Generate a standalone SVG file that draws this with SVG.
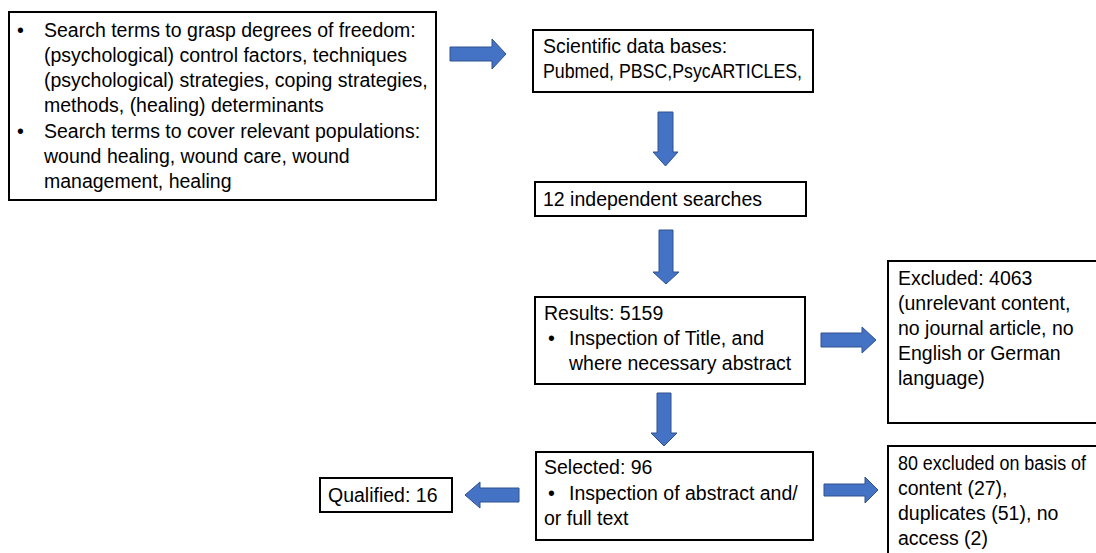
<svg xmlns="http://www.w3.org/2000/svg" width="1096" height="553" viewBox="0 0 1096 553">
<style>
.box{fill:#fff;stroke:#000;stroke-width:2}
.t{font-family:"Liberation Sans",Arial,sans-serif;font-size:19.5px;fill:#000}
.arr{fill:#4472C4;stroke:#2F528F;stroke-width:1}
</style>
<rect width="1096" height="553" fill="#fff"/>
<g id="connectors">
<path class="arr" d="M450,47 H492 V39 L506,54 L492,69 V61 H450 Z"/>
<path class="arr" d="M658,112 H673 V152 H678 L665.5,166 L653,152 H658 Z"/>
<path class="arr" d="M659,230 H673 V272 H679 L666,284 L653,272 H659 Z"/>
<path class="arr" d="M657,393 H671 V433 H677 L664,446 L651,433 H657 Z"/>
<path class="arr" d="M821,333 H862 V327 L876,340 L862,353 V347 H821 Z"/>
<path class="arr" d="M824,484 H865 V477 L878,490 L865,503 V496 H824 Z"/>
<path class="arr" d="M519,488 V502 H480 V508 L465,495 L480,482 V488 Z"/>
</g>
<g id="search-terms">
<rect class="box" x="9" y="12" width="427" height="188"/>
<text class="t" x="17" y="37">•</text>
<text class="t" x="44" y="37">Search terms to grasp degrees of freedom:</text>
<text class="t" x="44" y="62">(psychological) control factors, techniques</text>
<text class="t" x="44" y="87">(psychological) strategies, coping strategies,</text>
<text class="t" x="44" y="112">methods, (healing) determinants</text>
<text class="t" x="17" y="138">•</text>
<text class="t" x="44" y="138">Search terms to cover relevant populations:</text>
<text class="t" x="44" y="163">wound healing, wound care, wound</text>
<text class="t" x="44" y="188">management, healing</text>
</g>
<g id="databases">
<rect class="box" x="533" y="30" width="280" height="62"/>
<text class="t" x="543" y="53">Scientific data bases:</text>
<text class="t" x="543" y="78" textLength="259" lengthAdjust="spacingAndGlyphs">Pubmed, PBSC,PsycARTICLES,</text>
</g>
<g id="searches">
<rect class="box" x="535" y="182" width="271" height="34"/>
<text class="t" x="543" y="206">12 independent searches</text>
</g>
<g id="results">
<rect class="box" x="535" y="297" width="270" height="87"/>
<text class="t" x="544" y="320">Results: 5159</text>
<text class="t" x="548" y="345">•</text>
<text class="t" x="569" y="345">Inspection of Title, and</text>
<text class="t" x="569" y="370">where necessary abstract</text>
</g>
<g id="excluded1">
<rect class="box" x="888" y="261" width="220" height="162"/>
<text class="t" x="898" y="285">Excluded: 4063</text>
<text class="t" x="898" y="310">(unrelevant content,</text>
<text class="t" x="898" y="335">no journal article, no</text>
<text class="t" x="898" y="360">English or German</text>
<text class="t" x="898" y="385">language)</text>
</g>
<g id="selected">
<rect class="box" x="536" y="452" width="277" height="88"/>
<text class="t" x="544" y="474">Selected: 96</text>
<text class="t" x="548" y="500">•</text>
<text class="t" x="569" y="500">Inspection of abstract and/</text>
<text class="t" x="544" y="525">or full text</text>
</g>
<g id="excluded2">
<rect class="box" x="888" y="446" width="220" height="120"/>
<text class="t" x="898" y="470" textLength="188" lengthAdjust="spacingAndGlyphs">80 excluded on basis of</text>
<text class="t" x="898" y="495">content (27),</text>
<text class="t" x="898" y="520">duplicates (51), no</text>
<text class="t" x="898" y="545">access (2)</text>
</g>
<g id="qualified">
<rect class="box" x="320" y="478" width="132" height="34"/>
<text class="t" x="328" y="502">Qualified: 16</text>
</g>
</svg>
